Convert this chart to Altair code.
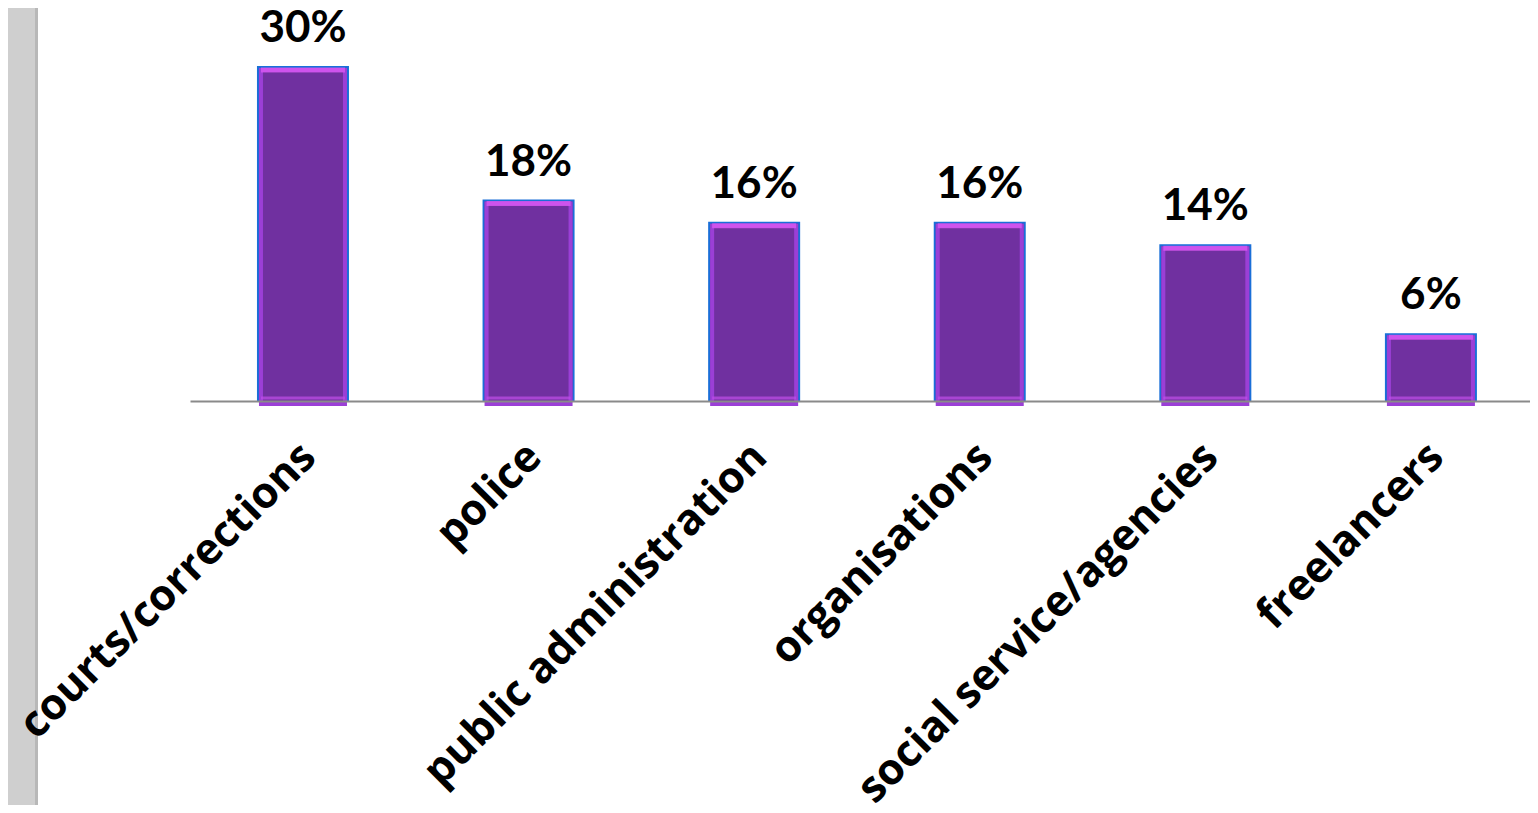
import altair as alt
import pandas as pd

categories = ["courts/corrections", "police", "public administration",
              "organisations", "social service/agencies", "freelancers"]
values = [30, 18, 16, 16, 14, 6]
labels = ["30%", "18%", "16%", "16%", "14%", "6%"]

df = pd.DataFrame({"cat": categories, "val": values, "lab": labels})

FONT = "Open Sans"
xenc = alt.X("cat:N", sort=categories, title=None,
             scale=alt.Scale(paddingInner=0.6, paddingOuter=0.27, align=0.557),
             axis=alt.Axis(labelAngle=-45, labelFontSize=43, labelFont=FONT,
                           labelFontWeight="bold", labelColor="black", ticks=False,
                           domainColor="#8a8a8a", domainWidth=2, labelPadding=34,
                           labelOffset=-9, labelLimit=0, zindex=1))
yscale = alt.Scale(domain=[0, 30], nice=False)
yenc = alt.Y("val:Q", scale=yscale, axis=None)

base = alt.Chart(df)

strip = base.mark_rect(color="#cfcfcf").encode(
    x=alt.value(-190), x2=alt.value(-153), y=alt.value(-70), y2=alt.value(800))
strip_edge = base.mark_rect(color="#b8b8b8").encode(
    x=alt.value(-155), x2=alt.value(-152), y=alt.value(-70), y2=alt.value(800))

outer = base.mark_bar(size=90, fill="#7030A0", stroke="#1a6fd8", strokeWidth=2).encode(
    x=xenc, y=yenc)
inner = base.mark_bar(size=84, fill="#7030A0", stroke="#9b3fd6", strokeWidth=4,
                      yOffset=3, y2Offset=-3).encode(x=xenc, y=yenc)
top = base.mark_tick(size=84, thickness=5, color="#e45cf6", yOffset=3).encode(
    x=xenc, y=yenc)
bottom = base.transform_calculate(z="0").mark_tick(
    size=84, thickness=3, color="#c04ee8", yOffset=-3).encode(
    x=xenc, y=alt.Y("z:Q", scale=yscale, axis=None))

text = base.mark_text(font="Lato", fontSize=44, fontWeight="bold", color="black",
                      baseline="alphabetic", dy=-25).encode(
    x=xenc, y=yenc, text="lab:N")

chart = alt.layer(strip, strip_edge, outer, inner, top, bottom, text).properties(
    width=1340, height=334,
    padding={"left": 182, "top": 59, "right": 0, "bottom": 404},
    autosize=alt.AutoSizeParams(type="none"),
    background="white",
).configure_view(stroke=None)

chart.save("out.html", embed_options={"renderer": "svg", "actions": False})
